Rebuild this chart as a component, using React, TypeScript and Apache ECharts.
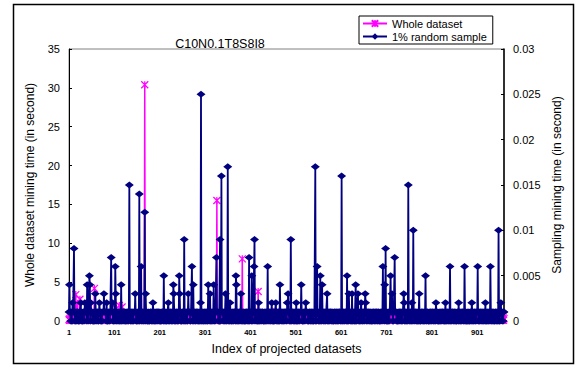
import React, { useEffect, useRef } from 'react';
import * as echarts from 'echarts';

const FONT = '"Liberation Sans", Arial, Helvetica, sans-serif';
const TITLE = 'C10N0.1T8S8I8';
const N = 960;
const CATEGORIES = Array.from({ length: N }, (_, i) => String(i + 1));
const X_LABEL_STEP = 100; // labels 1, 101, 201 ... 901
const LEFT_AXIS = [0, 35, 5]; // min, max, interval (seconds)
const RIGHT_AXIS = [0, 0.03, 0.005];
const SERIES_NAMES = ['Whole dataset', '1% random sample'];

// 1% random sample: baseline readings, in milliseconds (0 or 1), one digit per dataset
const SAMPLE_BASE_ROWS = [
  '1011010011 1010011011 0010111010 0110101110 0101101001 1101001011 0111001011 0100111011',
  '1101001101 0110111001 1010010111 0011010110 1110100101 1010110011 0101110100 1011010111',
  '0110101101 1100101001 1101011010 0101110110 1001011101 0110100111 0101101010 1110010110',
  '1010110100 1101101011 0010111001 1010101101 0111010010 1101100101 1011001110 1001011010',
  '0101101110 1001010111 0110100101 1101011001 0110111010 0101011011 1001101001 0111010101',
  '1100101101 0111010010 1011011100 1010110100 1110101101 0010111011 0101001101 1010110111',
  '0110110100 1011101011 0100101101 1101001011 0101110100 1101011010 0111001011 0101101001',
  '1011010110 0101101110 1010011010 1101011101 0010110101 1101010011 0110101101 0011011010',
  '0101110101 1010010110 1101101001 0110101110 1011001011 0101101110 1001010110 1101001101',
  '1101001011 0110101101 0011010111 0101100101 1011101010 0110100111 0101011010 1100101101',
  '0110101101 1101001010 1101110100 1010110101 0010111010 1101001101 0110101110 1011010010',
  '1010011011 0101101011 1001010110 1101011010 0101101101 1010110100 1101010110 0101101011',
];
// 1% random sample: taller readings (dataset index, seconds)
const SAMPLE_PEAK_INDEX = [
  2, 9, 12, 27, 36, 41, 46, 47, 49, 59, 68, 78, 84, 94, 97, 103, 104, 116, 134, 147,
  156, 160, 168, 170, 186, 210, 220, 231, 232, 244, 245, 255, 264, 272, 275, 291, 292, 308, 312, 320,
  326, 334, 337, 346, 351, 356, 369, 370, 380, 398, 404, 409, 410, 419, 439, 448, 457, 466, 482, 484,
  490, 502, 513, 523, 544, 548, 555, 559, 570, 602, 614, 618, 625, 633, 638, 645, 654, 655, 693, 697,
  699, 710, 713, 719, 739, 740, 749, 757, 760, 773, 787, 810, 831, 841, 860, 873, 889, 902, 919, 930,
  948, 953,
];
const SAMPLE_PEAK_VALUE = [
  0.004, 0.002, 0.008, 0.002, 0.002, 0.004, 0.005, 0.004, 0.002, 0.003, 0.002, 0.003, 0.002, 0.007, 0.002, 0.006, 0.003, 0.004, 0.015, 0.003,
  0.014, 0.006, 0.012, 0.003, 0.002, 0.005, 0.002, 0.004, 0.003, 0.005, 0.003, 0.009, 0.003, 0.006, 0.004, 0.002, 0.025, 0.004, 0.003, 0.004,
  0.007, 0.009, 0.016, 0.003, 0.017, 0.002, 0.005, 0.004, 0.003, 0.007, 0.005, 0.006, 0.009, 0.002, 0.006, 0.002, 0.002, 0.004, 0.002, 0.003,
  0.009, 0.002, 0.004, 0.002, 0.017, 0.006, 0.005, 0.004, 0.003, 0.016, 0.005, 0.003, 0.003, 0.004, 0.003, 0.002, 0.003, 0.002, 0.006, 0.004,
  0.008, 0.005, 0.003, 0.007, 0.003, 0.002, 0.015, 0.002, 0.01, 0.003, 0.005, 0.002, 0.002, 0.006, 0.002, 0.006, 0.002, 0.006, 0.002, 0.006,
  0.01, 0.002,
];

// Whole dataset: baseline readings in tenths of a second, one digit per dataset
const WHOLE_BASE_ROWS = [
  '2131421312 3124131241 2312413213 1421321241 3121432131 2413212312 4131231421 3121341231',
  '1312412314 2131241321 3214123142 1231412312 4213124131 2314213124 1312413212 3141231241',
  '3121413212 4131231241 3121431231 2413121341 2312413121 3412312413 1231412131 2413214131',
  '2413121341 2312131241 3124121341 3121241312 1341231241 2131241321 3124131213 4121312413',
  '1231412313 1241321413 1231241312 4131231413 2121341231 2413121341 3121413213 1241312131',
  '3124131214 1231241321 3121412313 1241312413 1213412314 1231241312 1341231241 3121341213',
  '2131241312 4131214123 1241312314 1213412312 4131231241 2131241321 3124131214 1231241312',
  '1241312131 2413124131 2314131241 2312413121 3412312413 1231412131 2413214131 2312413121',
  '3121243121 4132131241 3121341231 2413212341 2312141321 3412132413 1231421131 2413241131',
  '2133421312 3124311241 2312431213 1412321241 3121342131 2431212312 4131321421 3122341231',
  '1312142314 2132141321 3214213142 1231421312 4213214131 2314231124 1312431212 3141321241',
  '2413211341 2312311241 3124211341 3121421312 1341321241 2131421321 3124311213 4121321413',
];
// Whole dataset: taller readings (dataset index, seconds)
const WHOLE_PEAK_INDEX = [16, 20, 25, 57, 105, 112, 118, 168, 327, 383, 418, 458];
const WHOLE_PEAK_VALUE = [3.4, 2.3, 2.8, 4.2, 1.6, 2.0, 1.8, 30.4, 15.5, 8.0, 3.8, 1.2];

function buildSeries(rows: string[], unit: number, idx: number[], vals: number[]) {
  const s = rows.join('').replace(/\s/g, '');
  const out: number[] = [];
  for (let i = 0; i < N; i++) out.push(Math.round(Number(s[i] || '0') * unit * 10000) / 10000);
  idx.forEach((k, j) => {
    out[k - 1] = vals[j];
  });
  return out;
}

const WHOLE = buildSeries(WHOLE_BASE_ROWS, 0.1, WHOLE_PEAK_INDEX, WHOLE_PEAK_VALUE);
const SAMPLE = buildSeries(SAMPLE_BASE_ROWS, 0.001, SAMPLE_PEAK_INDEX, SAMPLE_PEAK_VALUE);

const STAR = 'path://M0,0L10,10M0,10L10,0M5,0L5,10';

export default function App() {
  const ref = useRef<HTMLDivElement>(null);
  useEffect(() => {
    if (!ref.current) return;
    const chart = echarts.init(ref.current, undefined, { renderer: 'svg' });
    chart.setOption({
      animation: false,
      backgroundColor: '#ffffff',
      textStyle: { fontFamily: FONT },
      graphic: [
        {
          type: 'rect',
          shape: { x: 13.5, y: 4.5, width: 560, height: 359 },
          style: { fill: 'none', stroke: '#000', lineWidth: 1.5 },
          silent: true,
        },
        {
          type: 'text',
          x: 220,
          y: 44,
          style: {
            text: TITLE,
            fill: '#000',
            font: `12.5px ${FONT}`,
            textAlign: 'center',
            textVerticalAlign: 'middle',
          },
          silent: true,
        },
      ],
      legend: {
        data: SERIES_NAMES,
        orient: 'vertical',
        left: 359,
        top: 16,
        itemWidth: 24,
        itemHeight: 8,
        itemGap: 2,
        padding: [2, 6, 2, 3],
        borderColor: '#000',
        borderWidth: 1,
        backgroundColor: '#fff',
        textStyle: { fontSize: 11, color: '#000', fontFamily: FONT },
      },
      grid: {
        left: 69,
        right: 74,
        top: 49,
        bottom: 46,
        show: true,
        borderColor: '#808080',
        borderWidth: 1,
        backgroundColor: 'transparent',
      },
      xAxis: {
        type: 'category',
        data: CATEGORIES,
        boundaryGap: false,
        axisLine: { show: true, lineStyle: { color: '#000', width: 1 } },
        axisTick: { show: false },
        splitLine: { show: false },
        axisLabel: {
          interval: (i: number) => i % X_LABEL_STEP === 0,
          fontSize: 7.5,
          fontWeight: 'bold',
          color: '#000',
          margin: 7,
          hideOverlap: false,
        },
        name: 'Index of projected datasets',
        nameLocation: 'middle',
        nameGap: 21,
        nameTextStyle: { fontSize: 12.5, color: '#000', fontFamily: FONT },
      },
      yAxis: [
        {
          type: 'value',
          position: 'left',
          min: LEFT_AXIS[0],
          max: LEFT_AXIS[1],
          interval: LEFT_AXIS[2],
          axisLine: { show: true, lineStyle: { color: '#000', width: 1 } },
          axisTick: { show: true, inside: true, length: 3, lineStyle: { color: '#000' } },
          splitLine: { show: false },
          axisLabel: { fontSize: 11, color: '#000', margin: 9 },
          name: 'Whole dataset mining time (in second)',
          nameLocation: 'middle',
          nameRotate: 90,
          nameGap: 33,
          nameTextStyle: { fontSize: 12, color: '#000', fontFamily: FONT },
        },
        {
          type: 'value',
          position: 'right',
          min: RIGHT_AXIS[0],
          max: RIGHT_AXIS[1],
          interval: RIGHT_AXIS[2],
          axisLine: { show: true, lineStyle: { color: '#000', width: 1.5 } },
          axisTick: { show: true, inside: true, length: 3, lineStyle: { color: '#000' } },
          splitLine: { show: false },
          axisLabel: {
            fontSize: 11,
            color: '#000',
            margin: 9,
            formatter: (v: number) => String(Math.round(v * 1000) / 1000),
          },
          name: 'Sampling mining time (in second)',
          nameLocation: 'middle',
          nameRotate: 90,
          nameGap: 41,
          nameTextStyle: { fontSize: 12, color: '#000', fontFamily: FONT },
        },
      ],
      series: [
        {
          name: SERIES_NAMES[0],
          type: 'line',
          yAxisIndex: 0,
          data: WHOLE,
          symbol: STAR,
          symbolSize: 7,
          showAllSymbol: true,
          lineStyle: { color: '#FF00FF', width: 1.5 },
          itemStyle: { color: '#FF00FF', borderColor: '#FF00FF', borderWidth: 1.2 },
          emphasis: { disabled: true },
          z: 2,
        },
        {
          name: SERIES_NAMES[1],
          type: 'line',
          yAxisIndex: 1,
          data: SAMPLE,
          symbol: 'diamond',
          symbolSize: [9, 7],
          showAllSymbol: true,
          lineStyle: { color: '#000080', width: 1.8 },
          itemStyle: { color: '#000080' },
          emphasis: { disabled: true },
          z: 3,
        },
      ],
    });
    return () => chart.dispose();
  }, []);
  return (
    <div
      ref={ref}
      style={{ position: 'absolute', left: 0, top: 0, width: 578, height: 367, background: '#fff' }}
    />
  );
}
